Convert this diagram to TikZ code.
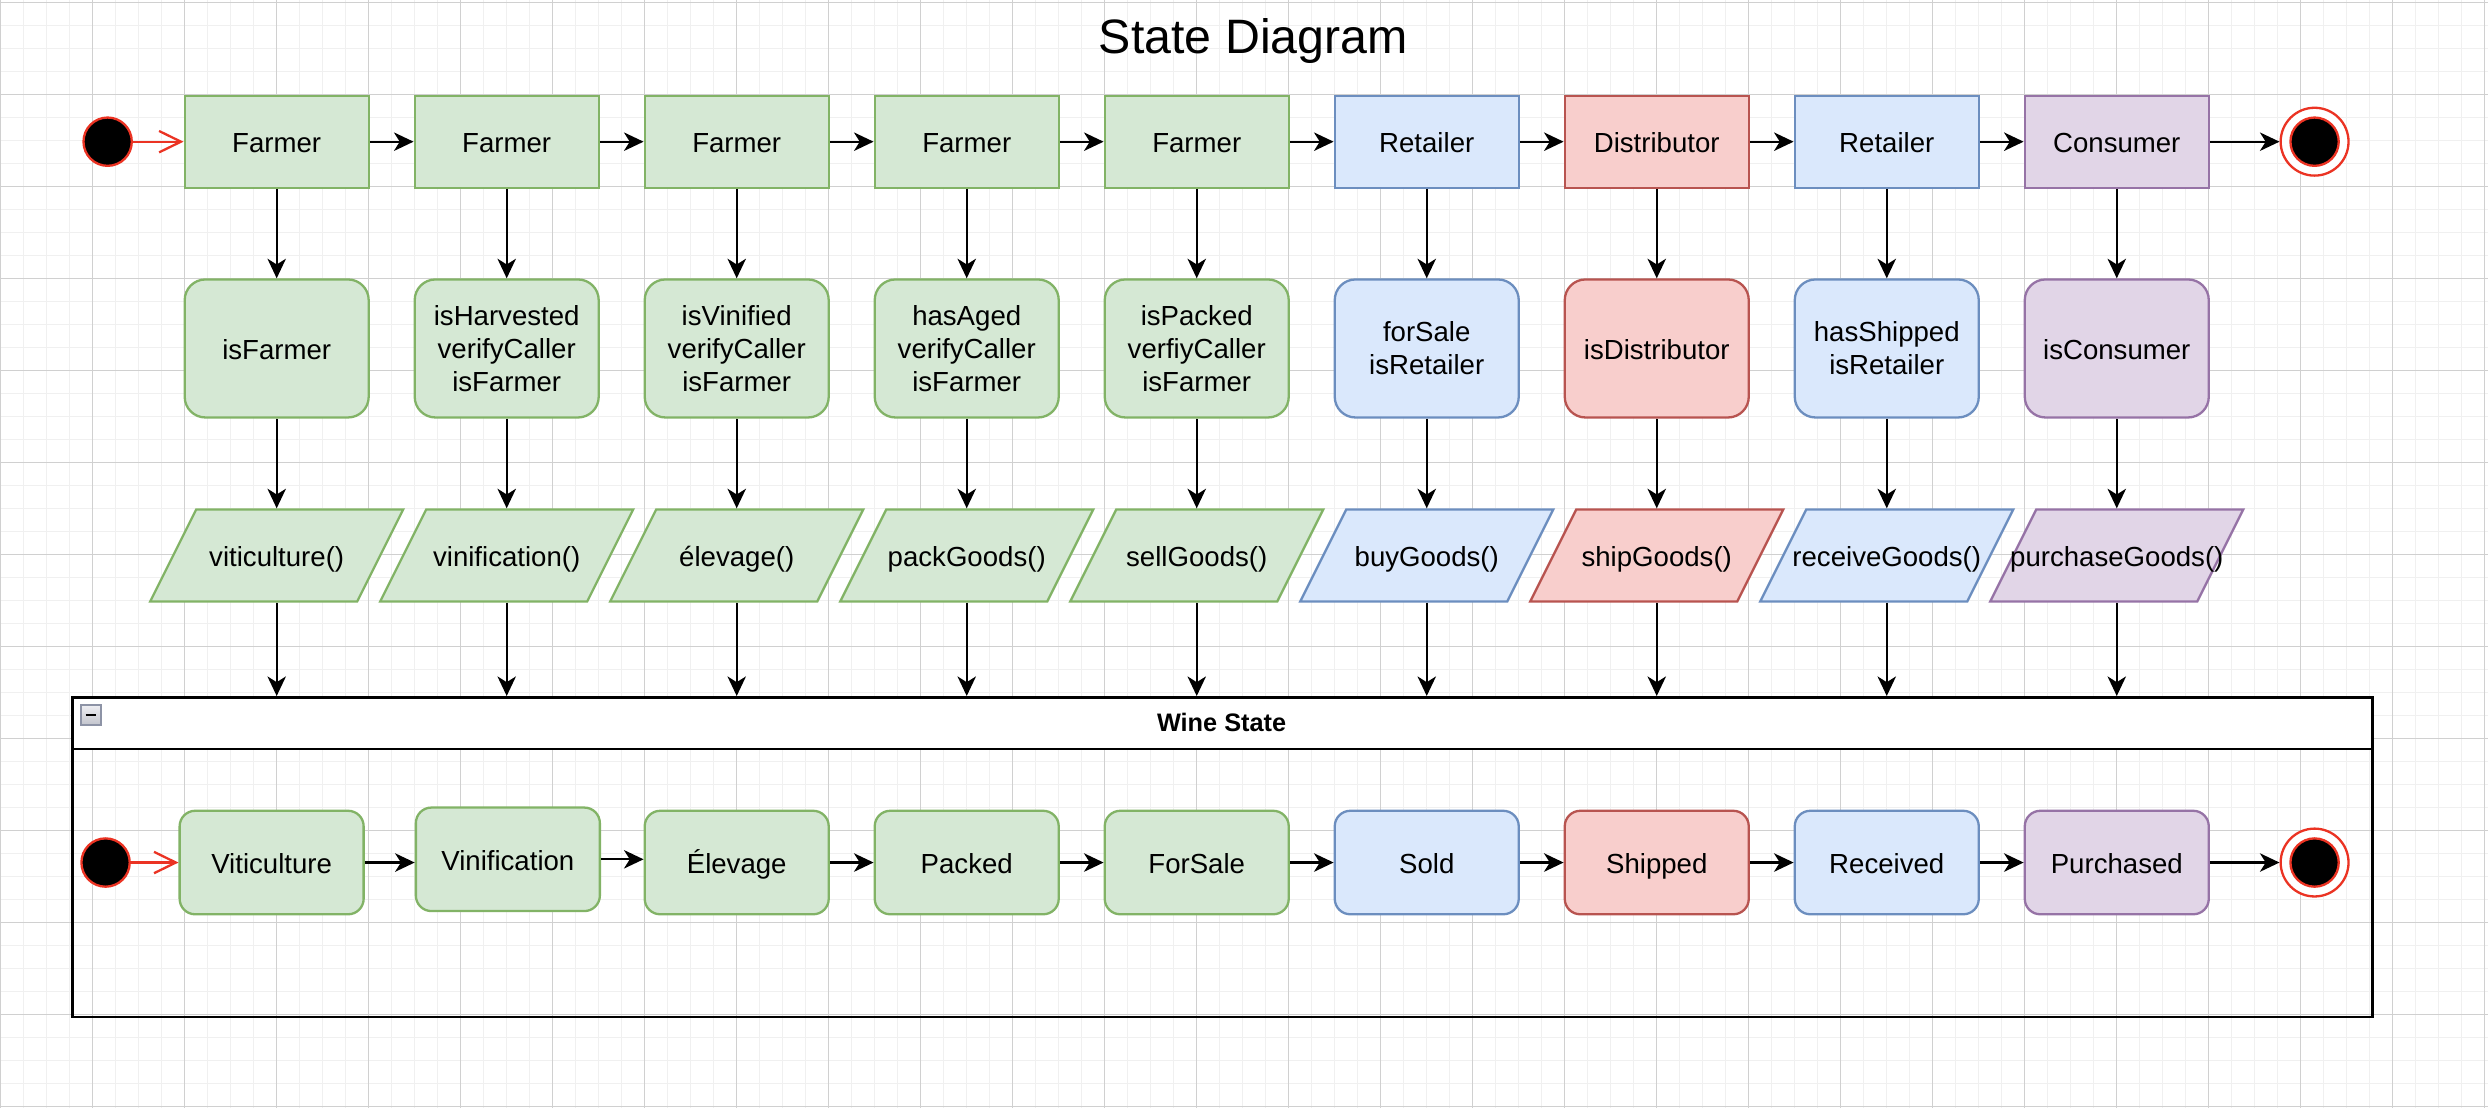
\documentclass[tikz,border=0pt]{standalone}
\usepackage{fontspec}
\setmainfont{Liberation Sans}
\usetikzlibrary{arrows.meta,calc}
\definecolor{gF}{HTML}{D5E8D4}\definecolor{gD}{HTML}{82B366}
\definecolor{bF}{HTML}{DAE8FC}\definecolor{bD}{HTML}{6C8EBF}
\definecolor{rF}{HTML}{F8CECC}\definecolor{rD}{HTML}{B85450}
\definecolor{pF}{HTML}{E1D5E7}\definecolor{pD}{HTML}{9673A6}
\definecolor{sred}{HTML}{EB3323}
\definecolor{gridminor}{HTML}{F0F0F0}
\definecolor{gridmajor}{HTML}{D0D0D0}
\definecolor{iconD}{HTML}{8D93A6}
\definecolor{iconT}{HTML}{EEEEF2}
\definecolor{iconB}{HTML}{C2C4CC}
\tikzset{
  base/.style={font=\fontsize{12}{14.4}\selectfont, align=center, inner sep=0pt, line width=1pt},
  oneline/.style={text height=10.4pt, text depth=0.6pt},
  multiline/.style={},
  actor/.style={base, oneline, rectangle, minimum width=80pt, minimum height=40pt},
  check/.style={base, rectangle, rounded corners=9pt, minimum width=80pt, minimum height=60pt},
  func/.style={base, oneline, rectangle, minimum width=110pt, minimum height=40pt},
  wstate/.style={base, oneline, rectangle, rounded corners=6.75pt, minimum width=80pt, minimum height=45pt},
  colG/.style={fill=gF, draw=gD},
  colB/.style={fill=bF, draw=bD},
  colR/.style={fill=rF, draw=rD},
  colP/.style={fill=pF, draw=pD},
  paraG/.style={fill=gF, draw=gD, line width=1pt},
  paraB/.style={fill=bF, draw=bD, line width=1pt},
  paraR/.style={fill=rF, draw=rD, line width=1pt},
  paraP/.style={fill=pF, draw=pD, line width=1pt},
  arr/.style={-{Stealth[length=8.5pt,width=8pt,inset=2.5pt]}, line width=1pt, draw=black},
  redarr/.style={-{Straight Barb[length=9.5pt,width=9.3pt]}, line width=1pt, draw=sred},
  startst/.style={circle, fill=black, draw=sred, line width=1pt, minimum size=21pt, inner sep=0pt},
  endouter/.style={circle, fill=white, draw=sred, line width=1pt, minimum size=29.5pt, inner sep=0pt},
  endinner/.style={circle, fill=black, draw=sred, line width=1pt, minimum size=21pt, inner sep=0pt},
}
\begin{document}
\begin{tikzpicture}[x=1pt,y=-1pt]
\useasboundingbox (-0.3,-1) rectangle (1081.4,480.7);
\fill[white] (-0.3,-1) rectangle (1081.4,480.7);
% grid
\foreach \gx in {0,10,...,1080} \draw[gridminor, line width=0.5pt] (\gx,-1) -- (\gx,480.7);
\foreach \gy in {0,10,...,480} \draw[gridminor, line width=0.5pt] (-0.3,\gy) -- (1081.4,\gy);
\foreach \gx in {0,40,...,1080} \draw[gridmajor, line width=0.5pt] (\gx,-1) -- (\gx,480.7);
\foreach \gy in {0,40,...,480} \draw[gridmajor, line width=0.5pt] (-0.3,\gy) -- (1081.4,\gy);

% title
\node[font=\fontsize{21}{25}\selectfont, anchor=base, inner sep=0pt] (title) at (544.6,22.2) {State Diagram};

% top row, checks, functions
\foreach \k/\t/\c/\ch/\ls/\fn in {
  1/Farmer/G/{isFarmer}/oneline/{viticulture()},
  2/Farmer/G/{isHarvested\\verifyCaller\\isFarmer}/multiline/{vinification()},
  3/Farmer/G/{isVinified\\verifyCaller\\isFarmer}/multiline/{élevage()},
  4/Farmer/G/{hasAged\\verifyCaller\\isFarmer}/multiline/{packGoods()},
  5/Farmer/G/{isPacked\\verfiyCaller\\isFarmer}/multiline/{sellGoods()},
  6/Retailer/B/{forSale\\isRetailer}/multiline/{buyGoods()},
  7/Distributor/R/{isDistributor}/oneline/{shipGoods()},
  8/Retailer/B/{hasShipped\\isRetailer}/multiline/{receiveGoods()},
  9/Consumer/P/{isConsumer}/oneline/{purchaseGoods()}}{
  \pgfmathsetmacro{\cx}{20+100*\k}
  \node[actor, col\c] (a\k) at (\cx,60.6) {\t};
  \node[check, \ls, col\c] (c\k) at (\cx,150.5) {\ch};
  \path[para\c] ({\cx-55},260.5) -- ({\cx+35},260.5) -- ({\cx+55},220.5) -- ({\cx-35},220.5) -- cycle;
  \node[func] (m\k) at (\cx,240.5) {\fn};
}

% start / end of top row
\node[startst] (s1) at (46.5,60.6) {};
\node[endouter] (e1) at (1006,60.6) {};
\node[endinner] (e1i) at (1006,60.6) {};

% container
\fill[white] (30.7,301.6) rectangle (1030.6,324.6);
\node[draw, line width=1.2pt, inner sep=0pt, minimum width=999.9pt, minimum height=139pt, anchor=north west] (ws) at (30.7,301.6) {};
\draw[line width=1.2pt] (ws.west |- 0,324.6) coordinate (hl) -- (ws.east |- 0,324.6) coordinate (hr);
\node[font=\bfseries\fontsize{11}{13}\selectfont, inner sep=0pt] (wst) at (530.8,313.2) {Wine State};
\node[draw=iconD, line width=0.8pt, top color=iconT, bottom color=iconB, minimum size=8.5pt, inner sep=0pt] (icon) at (39.2,309.9) {};
\draw[line width=1pt] ([xshift=-2.3pt]icon.center) -- ([xshift=2.3pt]icon.center);

% inner states
\node[wstate, colG] (v1) at (117.8,374) {Viticulture};
\node[wstate, colG] (v2) at (220.5,372.6) {Vinification};
\node[wstate, colG] (v3) at (320,374) {Élevage};
\node[wstate, colG] (v4) at (420,374) {Packed};
\node[wstate, colG] (v5) at (520,374) {ForSale};
\node[wstate, colB] (v6) at (620,374) {Sold};
\node[wstate, colR] (v7) at (720,374) {Shipped};
\node[wstate, colB] (v8) at (820,374) {Received};
\node[wstate, colP] (v9) at (920,374) {Purchased};
\node[startst] (s2) at (45.6,374) {};
\node[endouter] (e2) at (1006,374) {};
\node[endinner] (e2i) at (1006,374) {};

% connectors top
\draw[redarr] (s1) -- (a1);
\foreach \k in {1,...,8}{
  \pgfmathtruncatemacro{\n}{\k+1}
  \draw[arr] (a\k.east) -- (a\n.west);
}
\draw[arr] (a9.east) -- (a9.east -| e1.west);
\foreach \k in {1,...,9}{
  \draw[arr] (a\k.south) -- (c\k.north);
  \draw[arr] (c\k.south) -- (m\k.north);
  \draw[arr] (m\k.south) -- (m\k.south |- ws.north);
}

% connectors inner
\draw[redarr] (s2) -- (v1);
\draw[arr] (v1.east) -- (v1.east -| v2.west);
\draw[arr] (v2.east) -- (v2.east -| v3.west);
\foreach \k in {3,...,8}{
  \pgfmathtruncatemacro{\n}{\k+1}
  \draw[arr] (v\k.east) -- (v\n.west);
}
\draw[arr] (v9.east) -- (v9.east -| e2.west);
\end{tikzpicture}
\end{document}
